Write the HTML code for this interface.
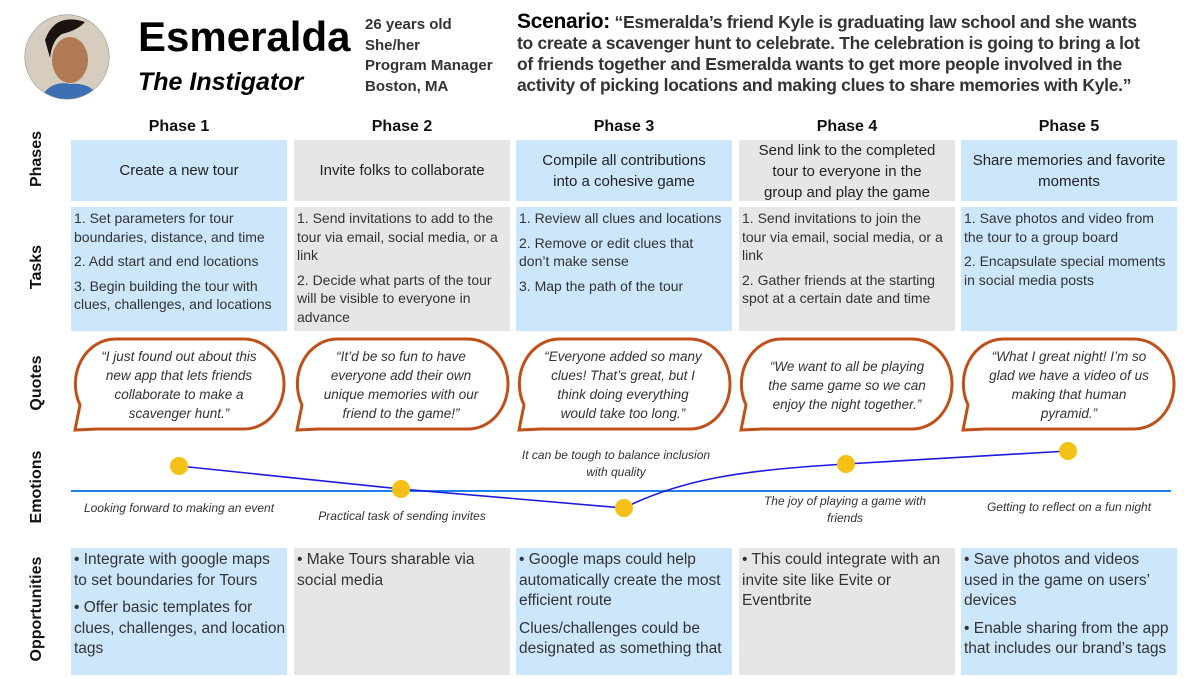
<!DOCTYPE html>
<html><head><meta charset="utf-8"><style>
*{margin:0;padding:0;box-sizing:border-box}
body{width:1200px;height:675px;background:#fff;position:relative;overflow:hidden;font-family:"Liberation Sans",sans-serif;color:#222}
.a{position:absolute}
.rl{position:absolute;transform:rotate(-90deg);font-weight:bold;font-size:16px;color:#111;white-space:nowrap;text-align:center;width:140px}
.ph{position:absolute;top:118px;width:216px;text-align:center;font-weight:bold;font-size:16px;color:#111}
.box{position:absolute;width:216px;white-space:nowrap;overflow:hidden}
.b{background:#cce6fb}.g{background:#e6e6e6}
.pc{display:flex;align-items:center;justify-content:center;text-align:center;font-size:15px;line-height:21px;padding:0 2px;color:#222}
.tk{font-size:14px;line-height:18.5px;padding:2px 3px;color:#333}
.tk p{margin-bottom:6px}
.op{font-size:15.5px;line-height:20.5px;padding:2px 3px;color:#333}
.op p{margin-bottom:7px}
.q{position:absolute;width:200px;text-align:center;font-style:italic;font-size:13.5px;line-height:19px;color:#333;white-space:nowrap}
.em{position:absolute;font-style:italic;font-size:12px;line-height:17px;color:#333;text-align:center;white-space:nowrap}
</style></head><body>
<svg class="a" style="left:0;top:0" width="1200" height="675">
<defs><clipPath id="c"><circle cx="67" cy="57" r="42"/></clipPath></defs>
<circle cx="67" cy="57" r="42" fill="#c9b8a4" stroke="#888" stroke-width="1"/>
<g clip-path="url(#c)"><rect x="25" y="15" width="84" height="84" fill="#d7cdbf"/><ellipse cx="70" cy="60" rx="18" ry="23" fill="#b07a55"/><path d="M45 40 Q55 12 85 22 Q78 30 62 34 Q52 40 50 58 Z" fill="#1a1410"/><path d="M40 99 Q50 80 70 84 Q92 82 100 99 Z" fill="#3d6fb3"/></g>
<g fill="none" stroke="#c0501a" stroke-width="3">
<path d="M115 339 H244 A40 45 0 0 1 244 429 H97 L75 430 L80 405 A40 45 0 0 1 115 339 Z"/>
<path d="M337 339 H468 A40 45 0 0 1 468 429 H319 L297 430 L302 405 A40 45 0 0 1 337 339 Z"/>
<path d="M559 339 H690 A40 45 0 0 1 690 429 H541 L519 430 L524 405 A40 45 0 0 1 559 339 Z"/>
<path d="M781 339 H912 A40 45 0 0 1 912 429 H763 L741 430 L746 405 A40 45 0 0 1 781 339 Z"/>
<path d="M1003 339 H1134 A40 45 0 0 1 1134 429 H985 L963 430 L968 405 A40 45 0 0 1 1003 339 Z"/>
</g>
<line x1="71" y1="491" x2="1171" y2="491" stroke="#1e7ff0" stroke-width="2"/>
<path d="M179 466 L401 489 L624 508 C680 480 740 470 846 464 L1068 451" fill="none" stroke="#1a1ae0" stroke-width="1.6"/>
<g fill="#f5c116"><circle cx="179" cy="466" r="9"/><circle cx="401" cy="489" r="9"/><circle cx="624" cy="508" r="9"/><circle cx="846" cy="464" r="9"/><circle cx="1068" cy="451" r="9"/></g>
</svg>
<div class="a" style="left:138px;top:13px;font-size:42px;font-weight:bold;color:#000">Esmeralda</div>
<div class="a" style="left:138px;top:68px;font-size:25px;font-weight:bold;font-style:italic;color:#000">The Instigator</div>
<div class="a" style="left:365px;top:15px;font-size:15px;line-height:20.5px;font-weight:bold;color:#333;white-space:nowrap">26 years old<br>She/her<br>Program Manager<br>Boston, MA</div>
<div class="a" style="left:517px;top:11px;font-size:17.5px;line-height:21px;font-weight:bold;color:#333;white-space:nowrap;letter-spacing:-0.3px"><span style="font-size:21px;color:#000">Scenario:</span> “Esmeralda’s friend Kyle is graduating law school and she wants<br>to create a scavenger hunt to celebrate. The celebration is going to bring a lot<br>of friends together and Esmeralda wants to get more people involved in the<br>activity of picking locations and making clues to share memories with Kyle.”</div>

<div class="rl" style="left:-33px;top:150px">Phases</div>
<div class="rl" style="left:-33px;top:258px">Tasks</div>
<div class="rl" style="left:-33px;top:374px">Quotes</div>
<div class="rl" style="left:-33px;top:478px">Emotions</div>
<div class="rl" style="left:-33px;top:600px">Opportunities</div>

<div class="ph" style="left:71px">Phase 1</div><div class="ph" style="left:294px">Phase 2</div><div class="ph" style="left:516px">Phase 3</div><div class="ph" style="left:739px">Phase 4</div><div class="ph" style="left:961px">Phase 5</div>

<div class="box b pc" style="left:71px;top:140px;height:61px">Create a new tour</div>
<div class="box g pc" style="left:294px;top:140px;height:61px">Invite folks to collaborate</div>
<div class="box b pc" style="left:516px;top:140px;height:61px">Compile all contributions<br>into a cohesive game</div>
<div class="box g pc" style="left:739px;top:140px;height:61px;padding-top:2px">Send link to the completed<br>tour to everyone in the<br>group and play the game</div>
<div class="box b pc" style="left:961px;top:140px;height:61px">Share memories and favorite<br>moments</div>

<div class="box b tk" style="left:71px;top:207px;height:124px"><p>1. Set parameters for tour<br>boundaries, distance, and time</p><p>2. Add start and end locations</p><p>3. Begin building the tour with<br>clues, challenges, and locations</p></div>
<div class="box g tk" style="left:294px;top:207px;height:124px"><p>1. Send invitations to add to the<br>tour via email, social media, or a<br>link</p><p>2. Decide what parts of the tour<br>will be visible to everyone in<br>advance</p></div>
<div class="box b tk" style="left:516px;top:207px;height:124px"><p>1. Review all clues and locations</p><p>2. Remove or edit clues that<br>don’t make sense</p><p>3. Map the path of the tour</p></div>
<div class="box g tk" style="left:739px;top:207px;height:124px"><p>1. Send invitations to join the<br>tour via email, social media, or a<br>link</p><p>2. Gather friends at the starting<br>spot at a certain date and time</p></div>
<div class="box b tk" style="left:961px;top:207px;height:124px"><p>1. Save photos and video from<br>the tour to a group board</p><p>2. Encapsulate special moments<br>in social media posts</p></div>

<div class="q" style="left:79px;top:347px">“I just found out about this<br>new app that lets friends<br>collaborate to make a<br>scavenger hunt.”</div>
<div class="q" style="left:301px;top:347px">“It’d be so fun to have<br>everyone add their own<br>unique memories with our<br>friend to the game!”</div>
<div class="q" style="left:523px;top:347px">“Everyone added so many<br>clues! That’s great, but I<br>think doing everything<br>would take too long.”</div>
<div class="q" style="left:747px;top:357px">“We want to all be playing<br>the same game so we can<br>enjoy the night together.”</div>
<div class="q" style="left:969px;top:347px">“What I great night! I’m so<br>glad we have a video of us<br>making that human<br>pyramid.”</div>

<div class="em" style="left:71px;top:500px;width:216px">Looking forward to making an event</div>
<div class="em" style="left:294px;top:508px;width:216px">Practical task of sending invites</div>
<div class="em" style="left:516px;top:447px;width:200px">It can be tough to balance inclusion<br>with quality</div>
<div class="em" style="left:745px;top:493px;width:200px">The joy of playing a game with<br>friends</div>
<div class="em" style="left:961px;top:499px;width:216px">Getting to reflect on a fun night</div>

<div class="box b op" style="left:71px;top:548px;height:127px"><p>• Integrate with google maps<br>to set boundaries for Tours</p><p>• Offer basic templates for<br>clues, challenges, and location<br>tags</p></div>
<div class="box g op" style="left:294px;top:548px;height:127px"><p>• Make Tours sharable via<br>social media</p></div>
<div class="box b op" style="left:516px;top:548px;height:127px"><p>• Google maps could help<br>automatically create the most<br>efficient route</p><p>Clues/challenges could be<br>designated as something that</p></div>
<div class="box g op" style="left:739px;top:548px;height:127px"><p>• This could integrate with an<br>invite site like Evite or<br>Eventbrite</p></div>
<div class="box b op" style="left:961px;top:548px;height:127px"><p>• Save photos and videos<br>used in the game on users’<br>devices</p><p>• Enable sharing from the app<br>that includes our brand’s tags</p></div>
</body></html>
